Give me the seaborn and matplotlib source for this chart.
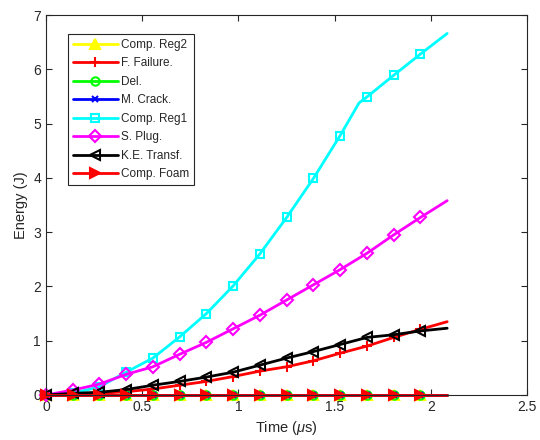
import matplotlib
matplotlib.use("Agg")
import matplotlib.pyplot as plt
import seaborn as sns
import numpy as np

# ---- data ----
time = [0.0, 0.139, 0.278, 0.417, 0.556, 0.695, 0.834, 0.973, 1.112,
        1.251, 1.390, 1.529, 1.668, 1.807, 1.946, 2.085]
time_reg1 = [0.0, 0.139, 0.278, 0.417, 0.556, 0.695, 0.834, 0.973, 1.112,
             1.251, 1.390, 1.529, 1.627, 1.668, 1.807, 1.946, 2.085]

comp_reg2 = [0.0] * 16
f_failure = [0.0, 0.01, 0.03, 0.06, 0.11, 0.18, 0.25, 0.34, 0.44,
             0.52, 0.63, 0.77, 0.90, 1.06, 1.21, 1.35]
delam = [0.0] * 16
m_crack = [0.0] * 16
comp_reg1 = [0.0, 0.03, 0.15, 0.42, 0.68, 1.07, 1.50, 2.01, 2.60,
             3.27, 3.99, 4.78, 5.38, 5.49, 5.89, 6.28, 6.66]
s_plug = [0.0, 0.09, 0.20, 0.38, 0.52, 0.75, 0.97, 1.22, 1.47,
          1.75, 2.03, 2.31, 2.61, 2.95, 3.27, 3.58]
ke_transf = [0.0, 0.03, 0.05, 0.10, 0.18, 0.25, 0.33, 0.42, 0.55,
             0.68, 0.80, 0.93, 1.06, 1.11, 1.18, 1.23]
comp_foam = [0.0] * 16

labels = ["Comp. Reg2", "F. Failure.", "Del.", "M. Crack.", "Comp. Reg1",
          "S. Plug.", "K.E. Transf.", "Comp. Foam"]
xticks = [0, 0.5, 1, 1.5, 2, 2.5]
yticks = [0, 1, 2, 3, 4, 5, 6, 7]

# ---- style ----
sns.set_style("ticks")
plt.rcParams["font.family"] = ["Liberation Sans", "DejaVu Sans"]
plt.rcParams["mathtext.fontset"] = "custom"
plt.rcParams["mathtext.it"] = "Liberation Sans:italic"
plt.rcParams["mathtext.rm"] = "Liberation Sans"

fig = plt.figure(figsize=(5.4, 4.4), dpi=100)
ax = fig.add_axes([0.085, 0.1023, 0.891, 0.8636])

marked = list(range(15))
marked_reg1 = [i for i in range(16) if i != 12]

series = [
    (time, comp_reg2, "#FFFF00", "^", "#FFFF00", 7, marked),
    (time, f_failure, "#FF0000", "+", "none", 7, marked),
    (time, delam, "#00FF00", "o", "none", 6, marked),
    (time, m_crack, "#0000FF", "x", "none", 4, marked),
    (time_reg1, comp_reg1, "#00FFFF", "s", "none", 5.5, marked_reg1),
    (time, s_plug, "#FF00FF", "D", "none", 6.3, marked),
    (time, ke_transf, "#000000", "<", "none", 7, marked),
    (time, comp_foam, "#FF0000", ">", "#FF0000", 7, marked),
]

for (x, y, c, m, fc, ms, me), lab in zip(series, labels):
    sns.lineplot(x=x, y=y, ax=ax, color=c, marker=m, markersize=ms,
                 markerfacecolor=fc, markeredgecolor=c, markeredgewidth=1.5,
                 markevery=me, linewidth=2.0, label=lab, sort=False,
                 estimator=None, clip_on=False)

ax.set_xlim(0, 2.5)
ax.set_ylim(0, 7)
ax.set_xticks(xticks)
ax.set_xticklabels(["0", "0.5", "1", "1.5", "2", "2.5"])
ax.set_yticks(yticks)
ax.set_xlabel(r"Time ($\mu$s)", fontsize=10.5, color="#262626")
ax.set_ylabel("Energy (J)", fontsize=10.5, color="#262626")
ax.tick_params(direction="in", length=4, width=0.8, labelsize=10,
               colors="#262626", top=True, right=True)
for s in ax.spines.values():
    s.set_visible(True)
    s.set_color("#262626")
    s.set_linewidth(0.8)

leg = ax.legend(loc="upper left", bbox_to_anchor=(0.046, 0.95),
                borderaxespad=0, fontsize=8.5, handlelength=3.8,
                labelspacing=0.55, frameon=True, fancybox=False,
                edgecolor="#262626", framealpha=1, borderpad=0.4,
                handletextpad=0.3)
leg.get_frame().set_linewidth(0.8)

fig.savefig("out.png", dpi=100)
